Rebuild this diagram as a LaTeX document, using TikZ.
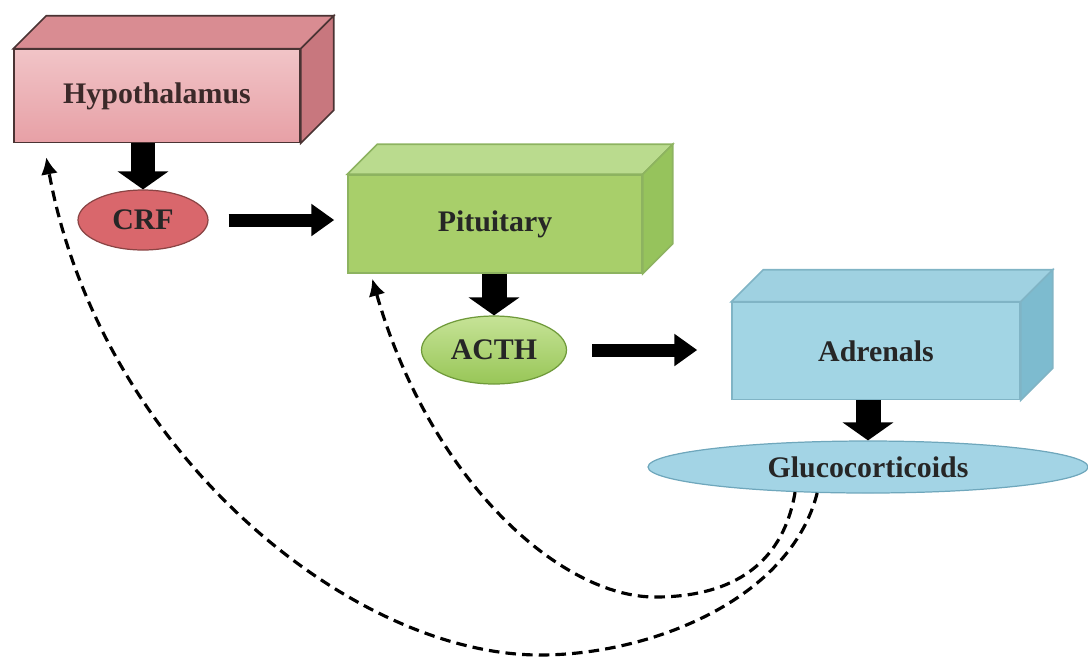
\documentclass[tikz,border=0pt]{standalone}
\usepackage{fontspec}
\setmainfont{Liberation Serif}
\usetikzlibrary{arrows.meta, calc, shapes.geometric}

\definecolor{hypfront}{HTML}{E7A0A6}
\definecolor{hypmid}{HTML}{F1C4C7}
\definecolor{hyplight}{HTML}{F8DDDF}
\definecolor{hyptop}{HTML}{D98C92}
\definecolor{hypside}{HTML}{C8777E}
\definecolor{hypline}{HTML}{4A3333}
\definecolor{pitfront}{HTML}{A8CF6A}
\definecolor{pitlight}{HTML}{CCE6A3}
\definecolor{pittop}{HTML}{BADB8E}
\definecolor{pitside}{HTML}{96C35C}
\definecolor{pitline}{HTML}{8DB360}
\definecolor{adrfront}{HTML}{A2D5E4}
\definecolor{adrlight}{HTML}{D6EFF6}
\definecolor{adrtop}{HTML}{9FD1E1}
\definecolor{adrside}{HTML}{7DBBCF}
\definecolor{adrline}{HTML}{80B4C5}
\definecolor{crffill}{HTML}{D9676C}
\definecolor{crflight}{HTML}{EC9C9E}
\definecolor{crfline}{HTML}{8A4444}
\definecolor{acthfill}{HTML}{98C657}
\definecolor{acthlight}{HTML}{C6E397}
\definecolor{acthline}{HTML}{6F9A3A}
\definecolor{glufill}{HTML}{A3D4E5}
\definecolor{glulight}{HTML}{D5EEF6}
\definecolor{gluline}{HTML}{6FA7BC}

\tikzset{
  organ/.style={rectangle, draw, line width=0.9pt, inner sep=0pt,
    font=\fontsize{17}{20}\selectfont\bfseries, text=black!85},
  hormone/.style={ellipse, draw, line width=0.7pt, inner sep=0pt,
    font=\fontsize{17}{20}\selectfont\bfseries, text=black!85},
  vblock/.style={line width=0.5cm, -{Triangle[length=0.36cm,width=1cm]}},
  hblock/.style={line width=0.26cm, -{Triangle[length=0.46cm,width=0.62cm]}},
  feedback/.style={line width=1.8pt, dash pattern=on 6pt off 3.5pt,
    -{Latex[length=0.34cm,width=0.34cm]}}
}

\begin{document}
\begin{tikzpicture}[x=0.02cm, y=-0.02cm]
    \useasboundingbox (0,0) rectangle (1088,657);

    % Front faces of the three glands
    \node[organ, minimum width=5.72cm, minimum height=1.86cm, draw=hypline,
      top color=hypmid, middle color=hyplight, bottom color=hypfront,
      text=hypline!80!black] (hyp) at (157,96) {Hypothalamus};
    \node[organ, minimum width=5.88cm, minimum height=1.96cm, draw=pitline,
      top color=pitfront, middle color=pitlight, bottom color=pitfront] (pit) at (495,224) {Pituitary};
    \node[organ, minimum width=5.76cm, minimum height=1.94cm, draw=adrline,
      top color=adrfront, middle color=adrlight, bottom color=adrfront] (adr) at (876,351) {Adrenals};

    % Top and right faces
    \filldraw[fill=hyptop, draw=hypline, line width=0.9pt] (hyp.north west) -- ++(33,-33)
      -- ($(hyp.north east)+(33,-33)$) -- (hyp.north east) -- cycle;
    \filldraw[fill=hypside, draw=hypline, line width=0.9pt] (hyp.north east) -- ++(33,-33)
      -- ($(hyp.south east)+(33,-33)$) -- (hyp.south east) -- cycle;
    \filldraw[fill=pittop, draw=pitline, line width=0.9pt] (pit.north west) -- ++(30,-30)
      -- ($(pit.north east)+(30,-30)$) -- (pit.north east) -- cycle;
    \filldraw[fill=pitside, draw=pitline, line width=0.9pt] (pit.north east) -- ++(30,-30)
      -- ($(pit.south east)+(30,-30)$) -- (pit.south east) -- cycle;
    \filldraw[fill=adrtop, draw=adrline, line width=0.9pt] (adr.north west) -- ++(32,-32)
      -- ($(adr.north east)+(32,-32)$) -- (adr.north east) -- cycle;
    \filldraw[fill=adrside, draw=adrline, line width=0.9pt] (adr.north east) -- ++(32,-32)
      -- ($(adr.south east)+(32,-32)$) -- (adr.south east) -- cycle;

    % Hormones
    \node[hormone, minimum width=2.6cm, minimum height=1.2cm, draw=crfline,
      top color=crffill, middle color=crflight, bottom color=crffill] (crf) at (143,220) {CRF};
    \node[hormone, minimum width=2.9cm, minimum height=1.36cm, draw=acthline,
      top color=acthlight, bottom color=acthfill] (acth) at (494,350) {ACTH};
    \node[hormone, minimum width=8.8cm, minimum height=1.04cm, draw=gluline,
      top color=glufill, middle color=glulight, bottom color=glufill] (gluco) at (868,467) {Glucocorticoids};

    % Secretion arrows
    \draw[vblock] (crf.north |- hyp.south) -- (crf.north);
    \draw[hblock, shorten <=0.4cm, shorten >=0.26cm] (crf.east) -- (crf.east -| pit.west);
    \draw[vblock] (acth.north |- pit.south) -- (acth.north);
    \draw[hblock, shorten <=0.5cm, shorten >=0.68cm] (acth.east) -- (acth.east -| adr.west);
    \draw[vblock] (gluco.north |- adr.south) -- (gluco.north);

    % Negative feedback loops
    \draw[feedback] (gluco.207) .. controls (790,600) and (650,655) .. (540,655)
      .. controls (350,655) and (100,450) .. ($(hyp.south west)+(33,14)$);
    \draw[feedback] (gluco.199) .. controls (782,570) and (725,597) .. (655,597)
      .. controls (560,597) and (430,480) .. ($(pit.south west)+(25,5)$);
\end{tikzpicture}
\end{document}
